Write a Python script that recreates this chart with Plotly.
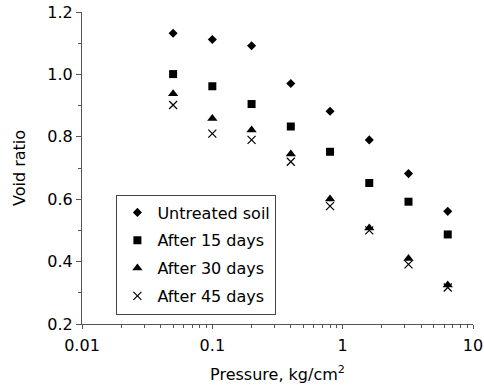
import plotly.graph_objects as go

pressure = [0.05, 0.1, 0.2, 0.4, 0.8, 1.6, 3.2, 6.4]
untreated = [1.132, 1.112, 1.092, 0.971, 0.882, 0.790, 0.682, 0.561]
after15 = [1.001, 0.962, 0.905, 0.833, 0.752, 0.652, 0.592, 0.487]
after30 = [0.938, 0.859, 0.822, 0.745, 0.601, 0.508, 0.410, 0.325]
after45 = [0.902, 0.810, 0.790, 0.720, 0.578, 0.500, 0.391, 0.317]

series_names = ["Untreated soil", "After 15 days", "After 30 days", "After 45 days"]
FONT = "DejaVu Sans"

fig = go.Figure()
specs = [
    (untreated, "diamond", 7, None),
    (after15, "square", 8, None),
    (after30, "triangle-up", 9, None),
    (after45, "x-thin", 8, dict(width=1.2, color="black")),
]
for i, (vals, sym, sz, line) in enumerate(specs):
    m = dict(symbol=sym, size=sz, color="black")
    m["line"] = line if line else dict(width=0)
    fig.add_trace(go.Scatter(x=pressure, y=vals, mode="markers", name=series_names[i],
                             marker=m, legendgroup=f"g{i}"))

fig.update_layout(
    width=484, height=387,
    margin=dict(l=82, r=11, t=12, b=63),
    paper_bgcolor="white", plot_bgcolor="white",
    font=dict(family=FONT, size=16, color="black"),
    showlegend=True,
    legend=dict(x=0.088, y=0.415, xanchor="left", yanchor="top",
                bordercolor="#444", borderwidth=1, bgcolor="white",
                font=dict(family=FONT, size=16, color="black"),
                tracegroupgap=4, itemwidth=30),
    xaxis=dict(type="log", range=[-2, 1], showgrid=False, zeroline=False,
               showline=True, linecolor="#555", linewidth=1.2, automargin=False,
               ticks="outside", ticklen=4, tickcolor="#555",
               tickvals=[0.01, 0.1, 1, 10], ticktext=["0.01", "0.1", "1", "10"],
               minor=dict(ticks="outside", ticklen=3, tickcolor="#555",
                          tickvals=[k * 10 ** e for e in (-2, -1, 0) for k in range(2, 10)]),
               tickfont=dict(size=16), ticklabelstandoff=3,
               title=dict(text="Pressure, kg/cm<sup>2</sup>", font=dict(size=16), standoff=14)),
    yaxis=dict(range=[0.2, 1.2], showgrid=False, zeroline=False,
               showline=True, linecolor="#555", linewidth=1.2, automargin=False,
               ticks="outside", ticklen=5, tickcolor="#555",
               tickvals=[0.2, 0.4, 0.6, 0.8, 1.0, 1.2],
               ticktext=["0.2", "0.4", "0.6", "0.8", "1.0", "1.2"],
               minor=dict(ticks="outside", ticklen=3, tickcolor="#555",
                          tickvals=[0.3, 0.5, 0.7, 0.9, 1.1]),
               tickfont=dict(size=16),
               title=dict(text="Void ratio", font=dict(size=16), standoff=17)),
)

fig.write_html("out.html")
